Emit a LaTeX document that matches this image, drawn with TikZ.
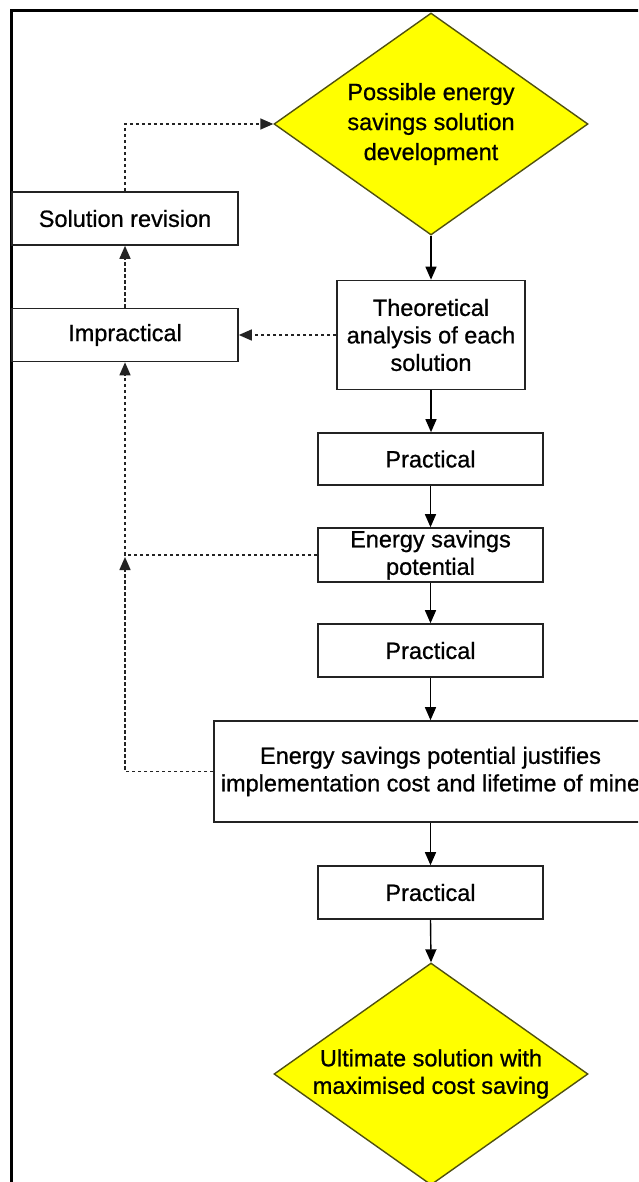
\documentclass[tikz,border=0pt]{standalone}
\usepackage{fontspec}
\setmainfont{Liberation Sans}[RawFeature={embolden=0.8}]
\usetikzlibrary{arrows.meta,shapes.geometric}
\definecolor{dyellow}{RGB}{255,255,0}
\definecolor{dborder}{RGB}{80,80,15}
\definecolor{bline}{RGB}{35,35,35}
\begin{document}
\begin{tikzpicture}[x=1pt,y=-1pt,
  txt/.style={align=center, font=\fontsize{23.5}{27.5}\selectfont},
  box/.style={txt, draw=bline, line width=1.6pt, fill=white, inner sep=0pt},
  dia/.style={txt, diamond, draw=dborder, line width=1.4pt, fill=dyellow, inner sep=0pt,
    shape aspect=1.414, minimum width=314pt, minimum height=222pt},
  flow/.style={draw=black, line width=1.4pt, -{Triangle[length=13pt,width=11pt]}},
  back/.style={draw=bline, line width=1.5pt, dash pattern=on 3.5pt off 2.5pt, -{Triangle[length=13pt,width=11pt]}}]
\clip (0,0) rectangle (638,1182);
\fill[white] (0,0) rectangle (638,1182);
% frame
\draw[line width=3pt, black] (11,1190) -- (11,11) -- (650,11);
% nodes
\node[dia, font=\fontsize{23.5}{30}\selectfont] (d1) at (431,124) {Possible energy\\savings solution\\development};
\node[box, minimum width=226pt, minimum height=53pt] (sr) at (125,218.5) {Solution revision};
\node[box, minimum width=188pt, minimum height=109pt] (th) at (431,335) {Theoretical\\analysis of each\\solution};
\node[box, minimum width=226pt, minimum height=53pt] (imp) at (125,335) {Impractical};
\node[box, minimum width=225pt, minimum height=52pt] (p1) at (430.5,459) {Practical};
\node[box, minimum width=225pt, minimum height=54pt] (esp) at (430.5,555) {Energy savings\\potential};
\node[box, minimum width=225pt, minimum height=53pt] (p2) at (430.5,650.5) {Practical};
\node[box, minimum width=433pt, minimum height=101pt] (big) at (430.5,771.5) {Energy savings potential justifies\\implementation cost and lifetime of mine};
\node[box, minimum width=225pt, minimum height=53pt] (p3) at (430.5,892.5) {Practical};
\node[dia] (d2) at (431,1074) {Ultimate solution with\\maximised cost saving};
\coordinate (j) at (125,557);
% main flow
\draw[flow] (d1.south) -- (th.north);
\draw[flow] (th.south) -- (th.south |- p1.north);
\draw[flow] (p1.south) -- (esp.north);
\draw[flow] (esp.south) -- (p2.north);
\draw[flow] (p2.south) -- (p2.south |- big.north);
\draw[flow] (p2.south |- big.south) -- (p3.north);
\draw[flow] (p3.south) -- (d2.north);
% feedback
\draw[back] (sr.north) |- (d1.west);
\draw[back] (th.west) -- (imp.east);
\draw[back] (imp.north) -- (sr.south);
\draw[back] (esp.west) -| (imp.south);
\draw[back] (big.west) -| (j);
\end{tikzpicture}
\end{document}
